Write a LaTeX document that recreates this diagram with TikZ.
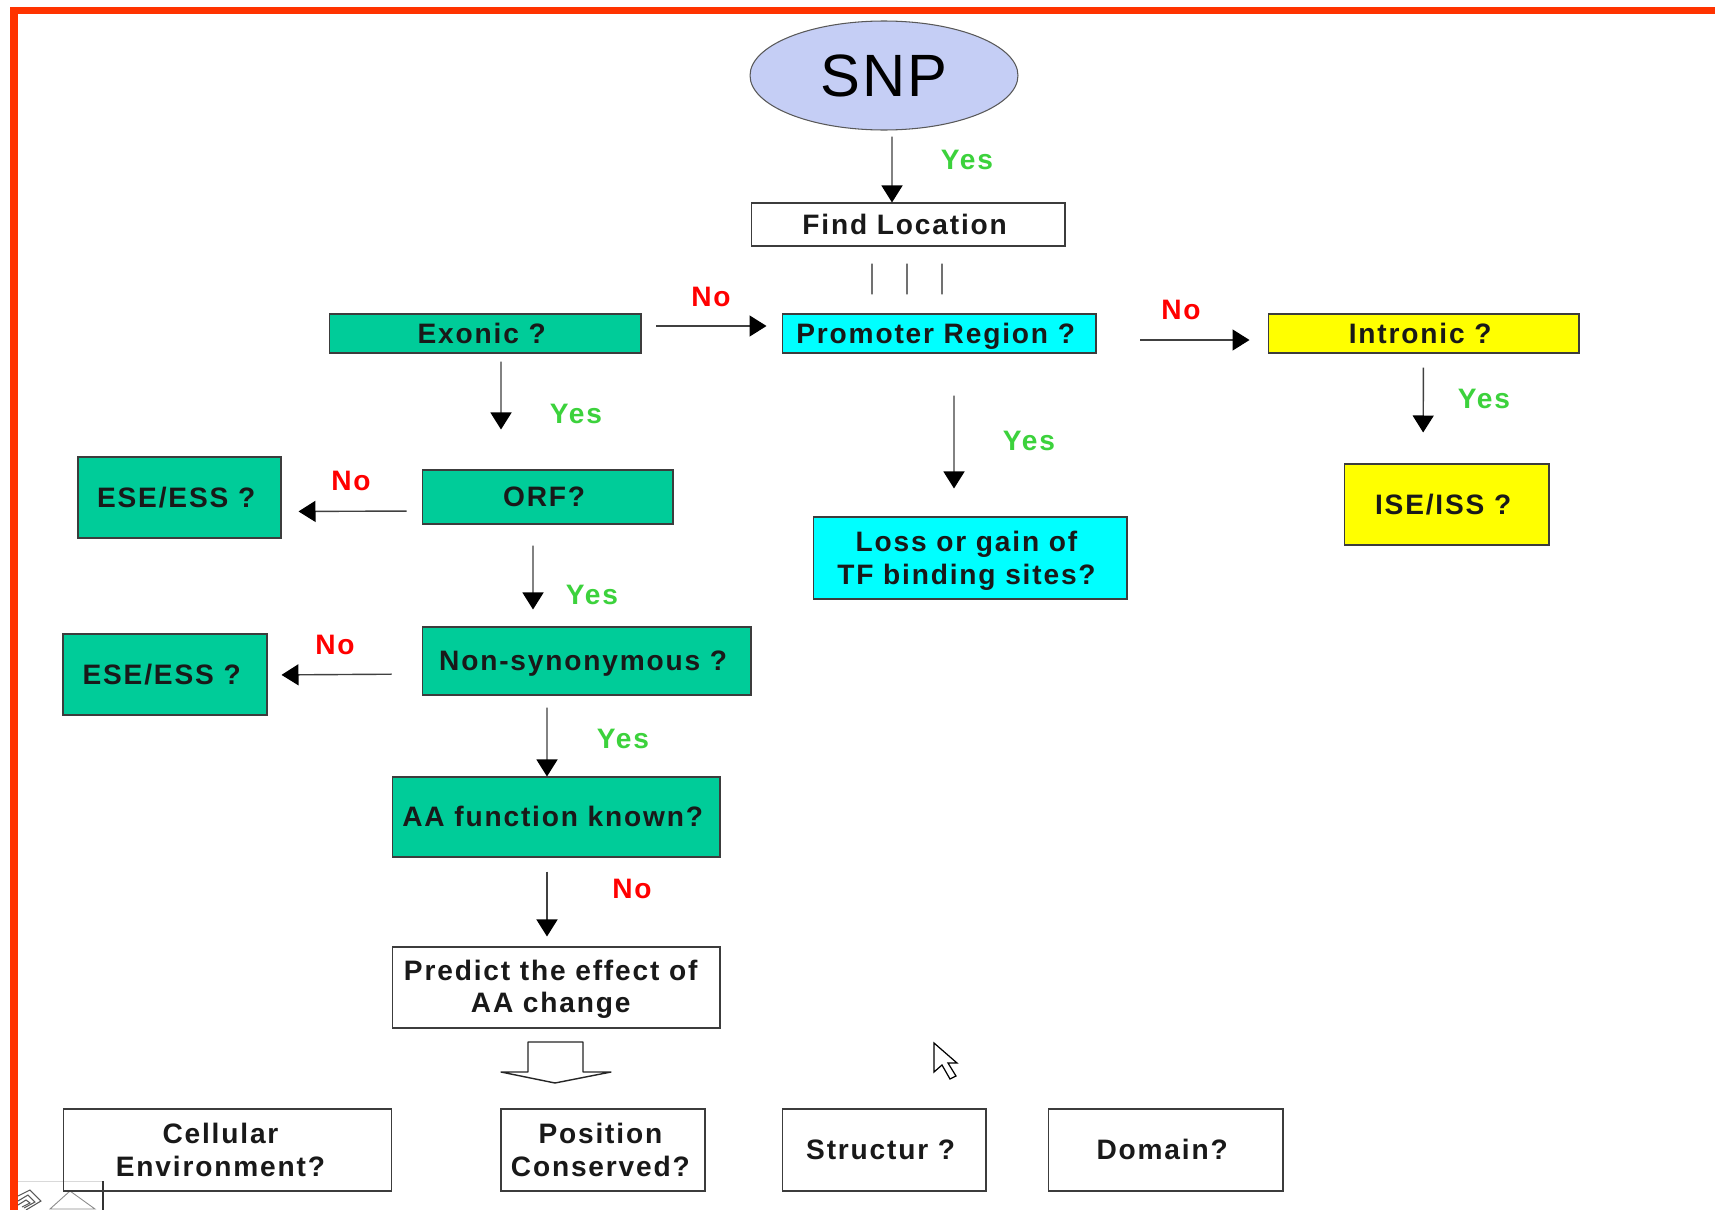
\documentclass[tikz,border=0pt]{standalone}
\usepackage{fontspec}
\setmainfont[LetterSpace=6.5]{Liberation Sans}
\newfontfamily\snpfont[LetterSpace=3.5]{Liberation Sans}
\usetikzlibrary{shapes, shapes.geometric, arrows, arrows.meta, positioning, calc}
\definecolor{exongreen}{RGB}{0,204,153}
\definecolor{promcyan}{RGB}{0,255,255}
\definecolor{intronyellow}{RGB}{255,255,0}
\definecolor{snpblue}{RGB}{197,206,245}
\definecolor{framered}{RGB}{255,51,0}
\definecolor{yesgreen}{RGB}{60,210,60}
\definecolor{nored}{RGB}{255,0,0}
\definecolor{boxline}{RGB}{60,60,60}

\begin{document}
\begin{tikzpicture}[
			x=0.02cm,
			y=-0.02cm,
			>={Triangle[length=0.34cm,width=0.42cm,color=black]},
			box/.style={
				rectangle,
				draw=boxline,
				line width=0.6pt,
				inner sep=0pt,
				align=center,
				font=\fontsize{16}{18.6}\selectfont\bfseries,
				text=black!90
			},
			single/.style={
				text height=11pt,
				text depth=0pt,
				execute at end node={\kern3.8pt}
			},
			exon/.style={
				box,
				fill=exongreen
			},
			promoter/.style={
				box,
				fill=promcyan
			},
			intron/.style={
				box,
				fill=intronyellow
			},
			arrow/.style={
				line width=0.8pt,
				draw=black!75,
				->
			},
			line/.style={
				line width=0.8pt,
				draw=black!85
			},
			yes/.style={
				text=yesgreen,
				font=\fontsize{16}{18}\selectfont\bfseries
			},
			no/.style={
				text=nored,
				font=\fontsize{16}{18}\selectfont\bfseries
			}
		]

		\useasboundingbox (0,0) rectangle (1715,1210);
		\fill[white] (0,0) rectangle (1715,1210);

		\draw[framered, line width=0.15cm] (14,1210) -- (14,10.5) -- (1715,10.5);

		\draw[black!15, line width=0.5pt] (18,1181) -- (103,1181);
		\draw[black!80, line width=0.9pt] (103,1181) -- (103,1210);
		\draw[black!45, line width=0.5pt] (50,1209) -- (70,1191) -- (95,1209) -- cycle;
		\draw[black!65, line width=0.6pt] (18,1196) -- (30,1190) -- (41,1201) -- (26,1210);
		\draw[black!65, line width=0.6pt] (18,1201) -- (28,1195) -- (35,1202) -- (24,1208);
		\draw[black!65, line width=0.6pt] (18,1205) -- (26,1200) -- (30,1203) -- (22,1207);

		\node (snp) [ellipse, draw=black!65, line width=0.6pt, fill=snpblue, inner sep=0pt, minimum width=5.36cm, minimum height=2.18cm, font=\snpfont\fontsize{34}{38}\selectfont] at (884,75.5) {SNP};
		\node (find) [box, single, minimum width=6.28cm, minimum height=0.86cm] at (908,224.5) {Find Location};

		\node (exonic) [exon, single, minimum width=6.24cm, minimum height=0.78cm] at (485,333.5) {Exonic ?};
		\node (prom) [promoter, single, minimum width=6.28cm, minimum height=0.78cm] at (939,333.5) {Promoter Region ?};
		\node (intronic) [intron, single, minimum width=6.22cm, minimum height=0.78cm] at (1423.5,333.5) {Intronic ?};

		\node (orf) [exon, single, minimum width=5.02cm, minimum height=1.08cm] at (547.5,497) {ORF?};
		\node (ese1) [exon, single, minimum width=4.06cm, minimum height=1.62cm] at (179.5,497.5) {ESE/ESS ?};
		\node (nonsyn) [exon, single, minimum width=6.58cm, minimum height=1.36cm] at (586.5,661) {Non-synonymous ?};
		\node (ese2) [exon, single, minimum width=4.08cm, minimum height=1.62cm] at (165,674.5) {ESE/ESS ?};
		\node (aafunc) [exon, single, minimum width=6.56cm, minimum height=1.6cm] at (556,817) {AA function known?};
		\node (predict) [box, minimum width=6.56cm, minimum height=1.62cm] at (556,987.5) {\rule{0pt}{13.5pt}Predict the effect of\kern6pt\\AA change\kern6pt};

		\node (loss) [promoter, minimum width=6.28cm, minimum height=1.64cm] at (970,558) {\rule{0pt}{15pt}Loss or gain of\kern4pt\\TF binding sites?\kern4pt};
		\node (ise) [intron, single, minimum width=4.1cm, minimum height=1.62cm] at (1446.5,504.5) {ISE/ISS ?};

		\node (cellular) [box, minimum width=6.58cm, minimum height=1.64cm] at (227.5,1150) {Cellular\kern8pt\\Environment?\kern8pt};
		\node (position) [box, minimum width=4.08cm, minimum height=1.64cm] at (603,1150) {Position\kern3pt\\Conserved?\kern3pt};
		\node (structur) [box, single, minimum width=4.08cm, minimum height=1.64cm] at (884,1150) {Structur ?};
		\node (domain) [box, single, minimum width=4.7cm, minimum height=1.64cm] at (1165.5,1150) {Domain?};

		\node [yes] (yes1) at (967,160) {Yes};
		\node [yes] (yes2) at (576,414) {Yes};
		\node [yes] (yes3) at (592,595) {Yes};
		\node [yes] (yes4) at (623,739) {Yes};
		\node [yes] (yes5) at (1029,441) {Yes};
		\node [yes] (yes6) at (1484,399) {Yes};
		\node [no] (no1) at (711,297) {No};
		\node [no] (no2) at (1181,310) {No};
		\node [no] (no3) at (351,481) {No};
		\node [no] (no4) at (335,645) {No};
		\node [no] (no5) at (632,889) {No};

		\draw [arrow, shorten <=0.12cm] ([xshift=0.16cm]snp.south) -- ([xshift=-0.32cm]find.north);

		\foreach \dx/\ex in {-0.72/-1.34, -0.02/-0.64, 0.68/0.06}
			\draw [line, shorten <=0.34cm, shorten >=0.38cm] ([xshift=\dx cm]find.south) -- ([xshift=\ex cm]prom.north);

		\draw [arrow, shorten <=0.3cm, shorten >=0.3cm] ([yshift=0.15cm]exonic.east) -- ([yshift=0.15cm]prom.west);
		\draw [arrow, shorten <=0.88cm, shorten >=0.36cm] ([yshift=-0.13cm]prom.east) -- ([yshift=-0.13cm]intronic.west);
		\draw [arrow, shorten <=0.16cm, shorten >=0.8cm] ([xshift=0.32cm]exonic.south) -- ([xshift=-0.93cm]orf.north);
		\draw [arrow, shorten <=0.3cm, shorten >=0.34cm] ([yshift=-0.28cm]orf.west) -- ([yshift=-0.28cm]ese1.east);
		\draw [arrow, shorten <=0.42cm, shorten >=0.34cm] ([xshift=-0.29cm]orf.south) -- ([xshift=-1.07cm]nonsyn.north);
		\draw [arrow, shorten <=0.6cm, shorten >=0.28cm] ([yshift=-0.26cm]nonsyn.west) -- ([yshift=-0.01cm]ese2.east);
		\draw [arrow, shorten <=0.24cm] ([xshift=-0.79cm]nonsyn.south) -- ([xshift=-0.18cm]aafunc.north);
		\draw [arrow, shorten <=0.28cm, shorten >=0.2cm] ([xshift=-0.18cm]aafunc.south) -- ([xshift=-0.18cm]predict.north);
		\draw [arrow, shorten <=0.84cm, shorten >=0.56cm] ([xshift=0.3cm]prom.south) -- ([xshift=-0.32cm]loss.north);
		\draw [arrow, shorten <=0.28cm, shorten >=0.62cm] (intronic.south) -- ([xshift=-0.47cm]ise.north);

		\coordinate (blocktop) at (555,1042);
		\draw [line, line join=round, fill=white] ($(blocktop)+(-27,0)$) -- ++(0,30) -- ++(-27,0) -- (555,1083) -- (611,1072) -- ++(-28,0) -- ++(0,-30) -- cycle;

		\draw [black, line width=0.7pt, fill=white] (934,1043) -- (934,1072) -- (942,1065) -- (950,1079) -- (956,1076) -- (948,1063) -- (957,1063) -- cycle;

		\end{tikzpicture}
\end{document}
